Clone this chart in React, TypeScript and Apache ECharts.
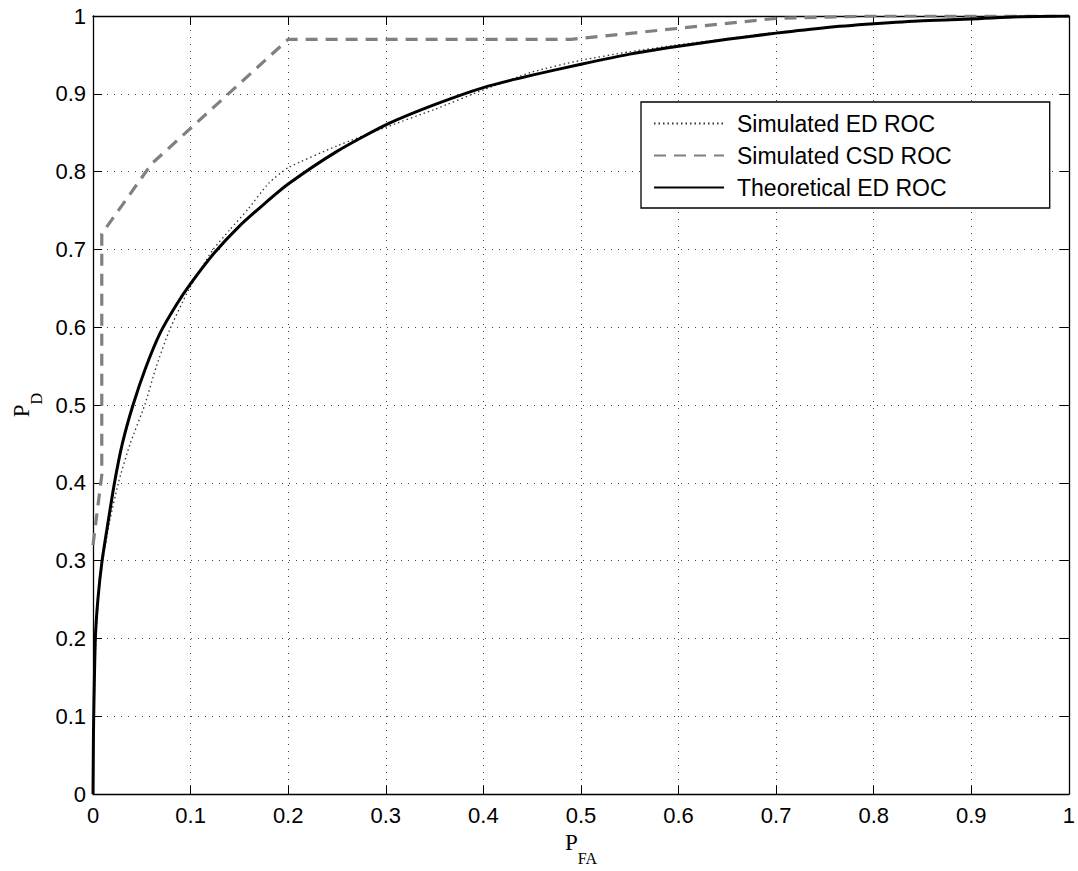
import React, { useEffect, useRef } from "react";
import * as echarts from "echarts";

// Theoretical ED ROC (solid black)
const theoryX = [0, 0.0005, 0.001, 0.0024, 0.005, 0.0093, 0.0155, 0.022, 0.03, 0.041, 0.054, 0.069, 0.085, 0.1, 0.124, 0.15, 0.175, 0.2, 0.25, 0.3, 0.35, 0.4, 0.45, 0.5, 0.55, 0.6, 0.65, 0.7, 0.75, 0.8, 0.85, 0.9, 0.95, 1];
const theoryY = [0, 0.08, 0.12, 0.2, 0.25, 0.3, 0.35, 0.4, 0.45, 0.5, 0.548, 0.593, 0.628, 0.656, 0.695, 0.73, 0.758, 0.784, 0.826, 0.86, 0.886, 0.908, 0.924, 0.938, 0.951, 0.961, 0.97, 0.978, 0.985, 0.99, 0.994, 0.996, 0.999, 1];

// Simulated ED ROC (dotted)
const simEdX = [0, 0.0005, 0.001, 0.003, 0.006, 0.01, 0.017, 0.026, 0.038, 0.053, 0.065, 0.078, 0.098, 0.122, 0.14, 0.159, 0.18, 0.2, 0.25, 0.3, 0.35, 0.4, 0.45, 0.5, 0.55, 0.6, 0.65, 0.7, 0.8, 0.9, 1];
const simEdY = [0, 0.07, 0.1, 0.2, 0.26, 0.3, 0.35, 0.4, 0.45, 0.5, 0.55, 0.595, 0.648, 0.698, 0.725, 0.752, 0.785, 0.805, 0.833, 0.857, 0.88, 0.905, 0.928, 0.943, 0.954, 0.963, 0.971, 0.979, 0.99, 0.997, 1];

// Simulated CSD ROC (dashed gray)
const simCsdX = [0, 0.009, 0.009, 0.06, 0.2, 0.49, 0.7, 0.8, 1];
const simCsdY = [0.32, 0.41, 0.72, 0.81, 0.97, 0.97, 0.997, 1, 1];

const seriesNames = ["Simulated ED ROC", "Simulated CSD ROC", "Theoretical ED ROC"];

const pairs = (xs: number[], ys: number[]) => xs.map((x, i) => [x, ys[i]]);

const SANS = "'Liberation Sans', Arial, Helvetica, sans-serif";
const SERIF = "'Liberation Serif', 'Times New Roman', serif";

const nameRich = {
  p: { fontFamily: SERIF, fontSize: 23, color: "#000", lineHeight: 23, padding: [0, 0, 12, 0] },
  s: { fontFamily: SERIF, fontSize: 16, color: "#000", lineHeight: 16, padding: [19, 0, 0, 0] },
};

export default function App() {
  const ref = useRef<HTMLDivElement>(null);
  useEffect(() => {
    if (!ref.current) return;
    const chart = echarts.init(ref.current, undefined, { renderer: "svg" });
    const tickCommon = { show: true, inside: true, length: 9, lineStyle: { color: "#000", width: 1 } };
    const lineCommon = { show: true, onZero: false, lineStyle: { color: "#000", width: 1.3 } };
    const gridLine = { show: true, lineStyle: { color: "#444", width: 1, type: [1, 6] as any } };
    chart.setOption({
      animation: false,
      backgroundColor: "#fff",
      grid: { left: 93, right: 8, top: 16, bottom: 69, containLabel: false },
      legend: {
        show: true,
        data: seriesNames,
        orient: "vertical",
        left: 641,
        top: 102,
        itemWidth: 70,
        itemHeight: 22,
        itemGap: 9,
        padding: [10, 98, 9, 12],
        backgroundColor: "#fff",
        borderColor: "#000",
        borderWidth: 1.3,
        borderRadius: 0,
        itemStyle: { opacity: 0, color: "rgba(0,0,0,0)", borderWidth: 0 },
        textStyle: { fontFamily: SANS, fontSize: 23, color: "#000", padding: [0, 0, 0, 8] },
      },
      xAxis: [
        {
          type: "value",
          min: 0,
          max: 1,
          interval: 0.1,
          position: "bottom",
          name: "{p|P}{s|FA}",
          nameLocation: "middle",
          nameGap: 34,
          nameTextStyle: { rich: nameRich },
          axisLine: lineCommon,
          axisTick: tickCommon,
          axisLabel: { fontFamily: SANS, fontSize: 22, color: "#000", margin: 10 },
          splitLine: gridLine,
        },
        {
          type: "value",
          min: 0,
          max: 1,
          interval: 0.1,
          position: "top",
          axisLine: lineCommon,
          axisTick: tickCommon,
          axisLabel: { show: false },
          splitLine: { show: false },
        },
      ],
      yAxis: [
        {
          type: "value",
          min: 0,
          max: 1,
          interval: 0.1,
          position: "left",
          name: "{p|P}{s|D}",
          nameLocation: "middle",
          nameGap: 50,
          nameRotate: 90,
          nameTextStyle: { rich: nameRich },
          axisLine: lineCommon,
          axisTick: tickCommon,
          axisLabel: { fontFamily: SANS, fontSize: 22, color: "#000", margin: 7 },
          splitLine: gridLine,
        },
        {
          type: "value",
          min: 0,
          max: 1,
          interval: 0.1,
          position: "right",
          axisLine: lineCommon,
          axisTick: tickCommon,
          axisLabel: { show: false },
          splitLine: { show: false },
        },
      ],
      series: [
        {
          name: seriesNames[0],
          type: "line",
          data: pairs(simEdX, simEdY),
          showSymbol: false,
          symbol: "none",
          smooth: 0.2,
          itemStyle: { color: "#333" },
          lineStyle: { color: "#333", width: 1.3, type: [1.5, 3] as any },
          z: 2,
        },
        {
          name: seriesNames[1],
          type: "line",
          data: pairs(simCsdX, simCsdY),
          showSymbol: false,
          symbol: "none",
          itemStyle: { color: "#808080" },
          lineStyle: { color: "#808080", width: 3.2, type: [12, 8] as any },
          z: 3,
        },
        {
          name: seriesNames[2],
          type: "line",
          data: pairs(theoryX, theoryY),
          showSymbol: false,
          symbol: "none",
          smooth: 0.2,
          itemStyle: { color: "#000" },
          lineStyle: { color: "#000", width: 3 },
          z: 4,
        },
      ],
    });
    return () => chart.dispose();
  }, []);
  return (
    <div
      ref={ref}
      style={{ position: "fixed", left: 0, top: 0, width: 1078, height: 871, background: "#fff" }}
    />
  );
}
